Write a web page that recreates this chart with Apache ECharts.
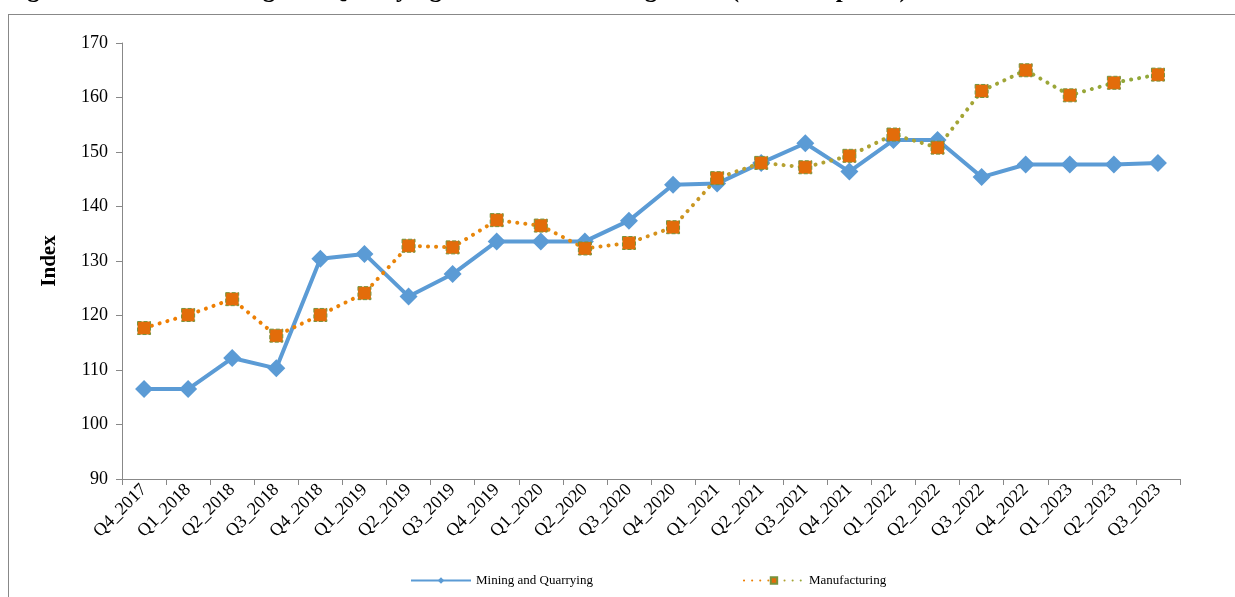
<!DOCTYPE html>
<html>
<head>
<meta charset="utf-8">
<script src="https://cdn.jsdelivr.net/npm/echarts@6/dist/echarts.min.js"></script>
<style>
html,body{margin:0;padding:0;background:#fff;}
#chart{width:1235px;height:597px;}
#frame{position:absolute;left:8px;top:14px;width:1300px;height:600px;border-left:1px solid #888;border-top:1px solid #888;}
</style>
</head>
<body>
<div id="frame"></div>
<div id="chart" style="position:absolute;left:0;top:0;"></div>
<script>
var quarters = ["Q4_2017","Q1_2018","Q2_2018","Q3_2018","Q4_2018","Q1_2019","Q2_2019","Q3_2019","Q4_2019","Q1_2020","Q2_2020","Q3_2020","Q4_2020","Q1_2021","Q2_2021","Q3_2021","Q4_2021","Q1_2022","Q2_2022","Q3_2022","Q4_2022","Q1_2023","Q2_2023","Q3_2023"];
var mining = [106.5,106.5,112.2,110.3,130.4,131.3,123.5,127.6,133.6,133.6,133.6,137.4,144.0,144.2,148.0,151.6,146.4,152.2,152.2,145.4,147.7,147.7,147.7,148.0];
var manufacturing = [117.7,120.1,123.0,116.3,120.1,124.1,132.8,132.5,137.5,136.5,132.3,133.3,136.2,145.2,148.0,147.2,149.3,153.2,150.8,161.2,165.0,160.4,162.7,164.2];
var yTicks = [90,170,10];

var chart = echarts.init(document.getElementById('chart'));
var font = 'Liberation Serif';
chart.setOption({
	animation: false,
	textStyle: { fontFamily: font },
	title: {
		text: 'Figure: Trends in Mining and Quarrying and Manufacturing Index (constant prices)',
		left: 0, top: -27,
		textStyle: { fontFamily: font, fontSize: 25, fontWeight: 'bold', color: '#000' }
	},
	grid: { left: 122, right: 55, top: 43, bottom: 118 },
	legend: {
		bottom: 5, left: 405, itemGap: 150, itemWidth: 60, itemHeight: 8,
		textStyle: { fontFamily: font, fontSize: 13, color: '#000' },
		data: ['Mining and Quarrying', 'Manufacturing']
	},
	xAxis: {
		type: 'category', data: quarters, boundaryGap: true,
		axisLine: { lineStyle: { color: '#888' } },
		axisTick: { show: true, length: 6, lineStyle: { color: '#888' } },
		axisLabel: { rotate: 45, color: '#000', fontSize: 18, fontFamily: font, margin: 8 }
	},
	yAxis: {
		type: 'value', min: yTicks[0], max: yTicks[1], interval: yTicks[2],
		name: 'Index', nameLocation: 'middle', nameGap: 62,
		nameTextStyle: { fontFamily: font, fontSize: 21, fontWeight: 'bold', color: '#000' },
		axisLine: { show: true, lineStyle: { color: '#888' } },
		axisTick: { show: true, length: 6, lineStyle: { color: '#888' } },
		axisLabel: { color: '#000', fontSize: 18, fontFamily: font, margin: 14 },
		splitLine: { show: false }
	},
	series: [{
		name: 'Mining and Quarrying', type: 'line', data: mining,
		symbol: 'diamond', symbolSize: 18,
		lineStyle: { color: '#5b9bd5', width: 4 },
		itemStyle: { color: '#5b9bd5' }
	}, {
		name: 'Manufacturing', type: 'line', data: manufacturing,
		symbol: 'rect', symbolSize: 13,
		lineStyle: {
			width: 4, type: [0.1, 8], cap: 'round',
			color: new echarts.graphic.LinearGradient(0, 0, 1, 0, [
				{ offset: 0, color: '#f07c00' }, { offset: 0.45, color: '#e48a10' },
				{ offset: 0.6, color: '#b9a030' }, { offset: 1, color: '#8fa83a' }])
		},
		itemStyle: { color: '#e36c0a', borderColor: '#77933c', borderWidth: 1, borderType: 'dashed' },
		z: 3
	}]
});
</script>
</body>
</html>
